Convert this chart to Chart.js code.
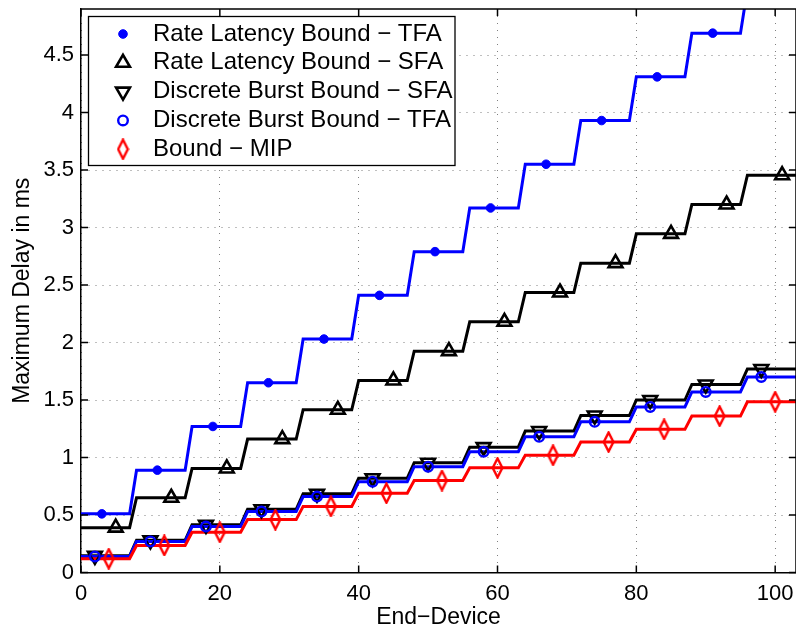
<!DOCTYPE html>
<html>
<head>
<meta charset="utf-8">
<script src="https://cdn.jsdelivr.net/npm/chart.js@4/dist/chart.umd.min.js"></script>
<style>
  html, body { margin: 0; padding: 0; background: #fff; }
  #wrap { width: 796px; height: 632px; }
</style>
</head>
<body>
<div id="wrap"><canvas id="delay-chart"></canvas></div>
<script>
// end-devices come in groups of 8 (0-7, 8-15, ... 96-103), one delay level per group
const groupSize = 8;

const rateLatencyTFA    = [0.51, 0.89, 1.27, 1.65, 2.03, 2.41, 2.79, 3.17, 3.55, 3.93, 4.31, 4.69, 5.07];
const rateLatencySFA    = [0.39, 0.65, 0.905, 1.16, 1.415, 1.67, 1.925, 2.18, 2.435, 2.69, 2.945, 3.20, 3.455];
const discreteBurstSFA  = [0.145, 0.28, 0.415, 0.55, 0.685, 0.82, 0.955, 1.09, 1.23, 1.365, 1.50, 1.635, 1.77];
const discreteBurstTFA  = [0.14, 0.27, 0.40, 0.53, 0.66, 0.79, 0.92, 1.05, 1.18, 1.31, 1.44, 1.57, 1.70];
const boundMIP          = [0.12, 0.235, 0.35, 0.46, 0.575, 0.69, 0.80, 0.91, 1.02, 1.135, 1.245, 1.36, 1.485];

const seriesLabels = [
    "Rate Latency Bound − TFA",
    "Rate Latency Bound − SFA",
    "Discrete Burst Bound − SFA",
    "Discrete Burst Bound − TFA",
    "Bound − MIP",
];
// device inside each group that carries the marker
const markerOffsets = [3, 5, 2, 2, 4];

const xTicks = { min: 0, max: 103, step: 20 };
const yTicks = { min: 0, max: 4.9, step: 0.5 };

Chart.defaults.font.family = '"Liberation Sans", Arial, Helvetica, sans-serif';
Chart.defaults.color = "#000";

function stepPoints(levels) {
    const pts = [];
    levels.forEach((v, g) => {
        for (let i = 0; i < groupSize; i++) pts.push({ x: g * groupSize + i, y: v });
    });
    return pts;
}

function markerPoints(levels, offset) {
    return levels.map((v, g) => ({ x: g * groupSize + offset, y: v }));
}

// narrow matlab-like diamond
const diamond = document.createElement("canvas");
diamond.width = 13;
diamond.height = 22;
(function () {
    const c = diamond.getContext("2d");
    c.strokeStyle = "#ff0000";
    c.lineWidth = 2.4;
    c.beginPath();
    c.moveTo(6.5, 1.5);
    c.lineTo(11.3, 11);
    c.lineTo(6.5, 20.5);
    c.lineTo(1.7, 11);
    c.closePath();
    c.stroke();
})();

const levels = [rateLatencyTFA, rateLatencySFA, discreteBurstSFA, discreteBurstTFA, boundMIP];
const colors = ["#0000ff", "#000000", "#000000", "#0000ff", "#ff0000"];
const markerStyle = [
    { pointStyle: "circle", pointRadius: 4.3, pointBackgroundColor: "#0000ff", pointBorderWidth: 1, order: 4 },
    { pointStyle: "triangle", pointRadius: 8, pointBackgroundColor: "rgba(0,0,0,0)", pointBorderWidth: 2.6, order: 3 },
    { pointStyle: "triangle", pointRotation: 180, pointRadius: 8, pointBackgroundColor: "rgba(0,0,0,0)", pointBorderWidth: 2.6, order: 2 },
    { pointStyle: "circle", pointRadius: 4.8, pointBackgroundColor: "rgba(0,0,0,0)", pointBorderWidth: 2.4, order: 1 },
    { pointStyle: diamond, pointRadius: 10, pointBackgroundColor: "rgba(0,0,0,0)", pointBorderWidth: 0, order: 0 },
];
const lineOrder = [14, 13, 12, 11, 10];

const markerSets = levels.map((lv, i) => Object.assign({
    label: seriesLabels[i],
    data: markerPoints(lv, markerOffsets[i]),
    showLine: false,
    pointBorderColor: colors[i],
    pointHoverRadius: 0,
}, markerStyle[i]));

const lineSets = levels.map((lv, i) => ({
    label: seriesLabels[i] + " (line)",
    data: stepPoints(lv),
    borderColor: colors[i],
    borderWidth: 3,
    pointRadius: 0,
    tension: 0,
    clip: 0,
    order: lineOrder[i],
}));

// box, top/right edges and inward ticks like the matlab axes
const axesFrame = {
    id: "axesFrame",
    afterDatasetsDraw(chart) {
        const { ctx, chartArea: a, scales } = chart;
        ctx.save();
        ctx.strokeStyle = "#000";
        ctx.lineWidth = 1.5;
        ctx.beginPath();
        ctx.moveTo(a.left, a.top);
        ctx.lineTo(a.right, a.top);
        ctx.lineTo(a.right, a.bottom);
        scales.x.ticks.forEach((t) => {
            const px = scales.x.getPixelForValue(t.value);
            ctx.moveTo(px, a.bottom); ctx.lineTo(px, a.bottom - 7);
            ctx.moveTo(px, a.top); ctx.lineTo(px, a.top + 7);
        });
        scales.y.ticks.forEach((t) => {
            const py = scales.y.getPixelForValue(t.value);
            ctx.moveTo(a.left, py); ctx.lineTo(a.left + 7, py);
            ctx.moveTo(a.right, py); ctx.lineTo(a.right - 7, py);
        });
        ctx.stroke();
        ctx.restore();
    },
};

const boxLegend = {
    id: "boxLegend",
    afterDraw(chart) {
        const ctx = chart.ctx;
        ctx.save();
        ctx.fillStyle = "#fff";
        ctx.fillRect(88.5, 16.5, 366.5, 149);
        ctx.strokeStyle = "#000";
        ctx.lineWidth = 1.3;
        ctx.strokeRect(88.5, 16.5, 366.5, 149);
        ctx.font = '24px "Liberation Sans", Arial, Helvetica, sans-serif';
        ctx.textBaseline = "middle";
        markerSets.forEach((ds, i) => {
            const cy = 34 + i * 28.8;
            ctx.fillStyle = ds.pointBackgroundColor;
            ctx.strokeStyle = ds.pointBorderColor;
            ctx.lineWidth = ds.pointBorderWidth;
            Chart.helpers.drawPoint(ctx, {
                pointStyle: ds.pointStyle,
                radius: ds.pointRadius,
                rotation: ds.pointRotation || 0,
                borderWidth: ds.pointBorderWidth,
            }, 123, cy);
            ctx.fillStyle = "#000";
            ctx.fillText(ds.label, 153, cy);
        });
        ctx.restore();
    },
};

const gridColor = "rgba(0,0,0,0.5)";

new Chart(document.getElementById("delay-chart"), {
    type: "line",
    data: { datasets: markerSets.concat(lineSets) },
    options: {
        responsive: true,
        maintainAspectRatio: false,
        animation: false,
        events: [],
        layout: { autoPadding: false, padding: { top: 9, left: 0, right: 0, bottom: 0 } },
        plugins: { legend: { display: false }, tooltip: { enabled: false } },
        scales: {
            x: {
                type: "linear",
                min: xTicks.min,
                max: xTicks.max,
                ticks: { stepSize: xTicks.step, includeBounds: false, maxRotation: 0, padding: 8, font: { size: 22 } },
                grid: { color: gridColor, drawTicks: false },
                border: { color: "#000", width: 1.5, dash: [1, 6] },
                title: { display: true, text: "End−Device", font: { size: 23 }, padding: { top: 0, bottom: 1 } },
                afterFit(scale) {
                    scale.height = 59.5;
                    scale.paddingLeft = 0;
                    scale.paddingRight = 0;
                },
            },
            y: {
                type: "linear",
                min: yTicks.min,
                max: yTicks.max,
                ticks: {
                    stepSize: yTicks.step,
                    includeBounds: false,
                    padding: 7,
                    font: { size: 22 },
                    callback: (v) => String(v),
                },
                grid: { color: gridColor, drawTicks: false },
                border: { color: "#000", width: 1.5, dash: [1, 6] },
                title: { display: true, text: "Maximum Delay in ms", font: { size: 23 }, padding: { top: 9, bottom: 0 } },
                afterFit(scale) {
                    scale.width = 81;
                    scale.paddingTop = 0;
                    scale.paddingBottom = 0;
                },
            },
        },
    },
    plugins: [axesFrame, boxLegend],
});
</script>
</body>
</html>
